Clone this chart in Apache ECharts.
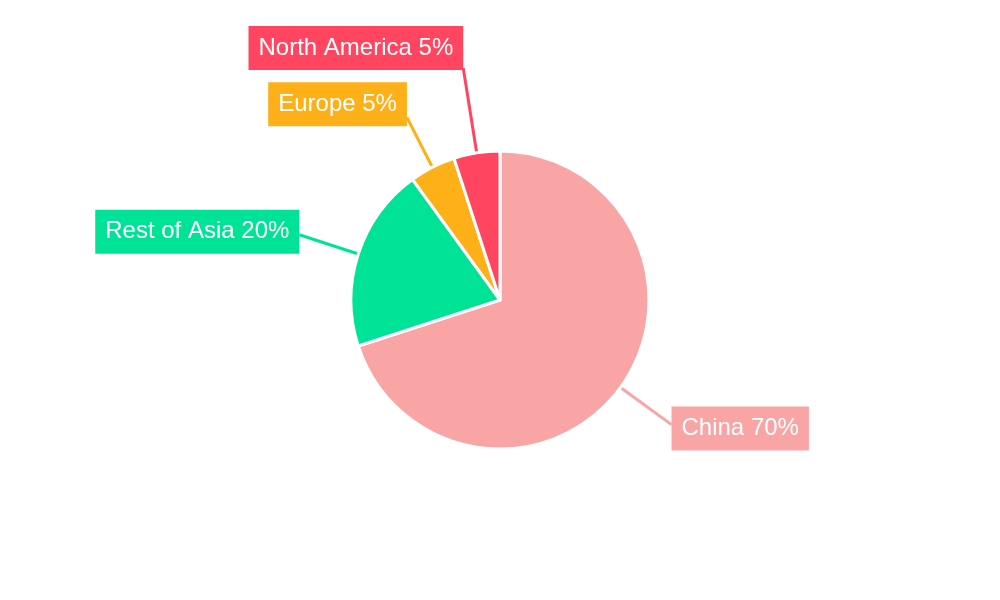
<!DOCTYPE html>
<html>
<head>
<meta charset="utf-8">
<script src="https://cdn.jsdelivr.net/npm/echarts@6/dist/echarts.min.js"></script>
<style>html,body{margin:0;padding:0;background:#fff}#c{width:1000px;height:600px}</style>
</head>
<body>
<div id="c"></div>
<script>
const categories = ['China', 'Rest of Asia', 'Europe', 'North America'];
const values = [70, 20, 5, 5];
const colors = ['#f9a5a6', '#00e396', '#feb019', '#ff4560'];
const lineLengths = [63, 62, 56, 86];
const labelShiftY = [4, -3, -13, -20];

const chart = echarts.init(document.getElementById('c'), null, {renderer: 'canvas'});
chart.setOption({
  animation: false,
  backgroundColor: '#ffffff',
  series: [{
    type: 'pie',
    center: [500, 300],
    radius: 149,
    startAngle: 90,
    clockwise: true,
    avoidLabelOverlap: false,
    itemStyle: {borderColor: '#ffffff', borderWidth: 3},
    label: {
      show: true,
      position: 'outside',
      distanceToLabelLine: 0,
      formatter: '{b} {c}%',
      color: '#ffffff',
      fontFamily: 'Liberation Sans, Arial, sans-serif',
      fontSize: 24,
      lineHeight: 24,
      padding: [10, 10, 10, 10]
    },
    labelLine: {show: true, length2: 0, smooth: false, lineStyle: {width: 3}},
    labelLayout: function (p) { return {dy: labelShiftY[p.dataIndex]}; },
    data: categories.map((n, i) => ({
      name: n,
      value: values[i],
      itemStyle: {color: colors[i]},
      label: {backgroundColor: colors[i]},
      labelLine: {length: lineLengths[i], lineStyle: {color: colors[i]}}
    }))
  }]
});
</script>
</body>
</html>
